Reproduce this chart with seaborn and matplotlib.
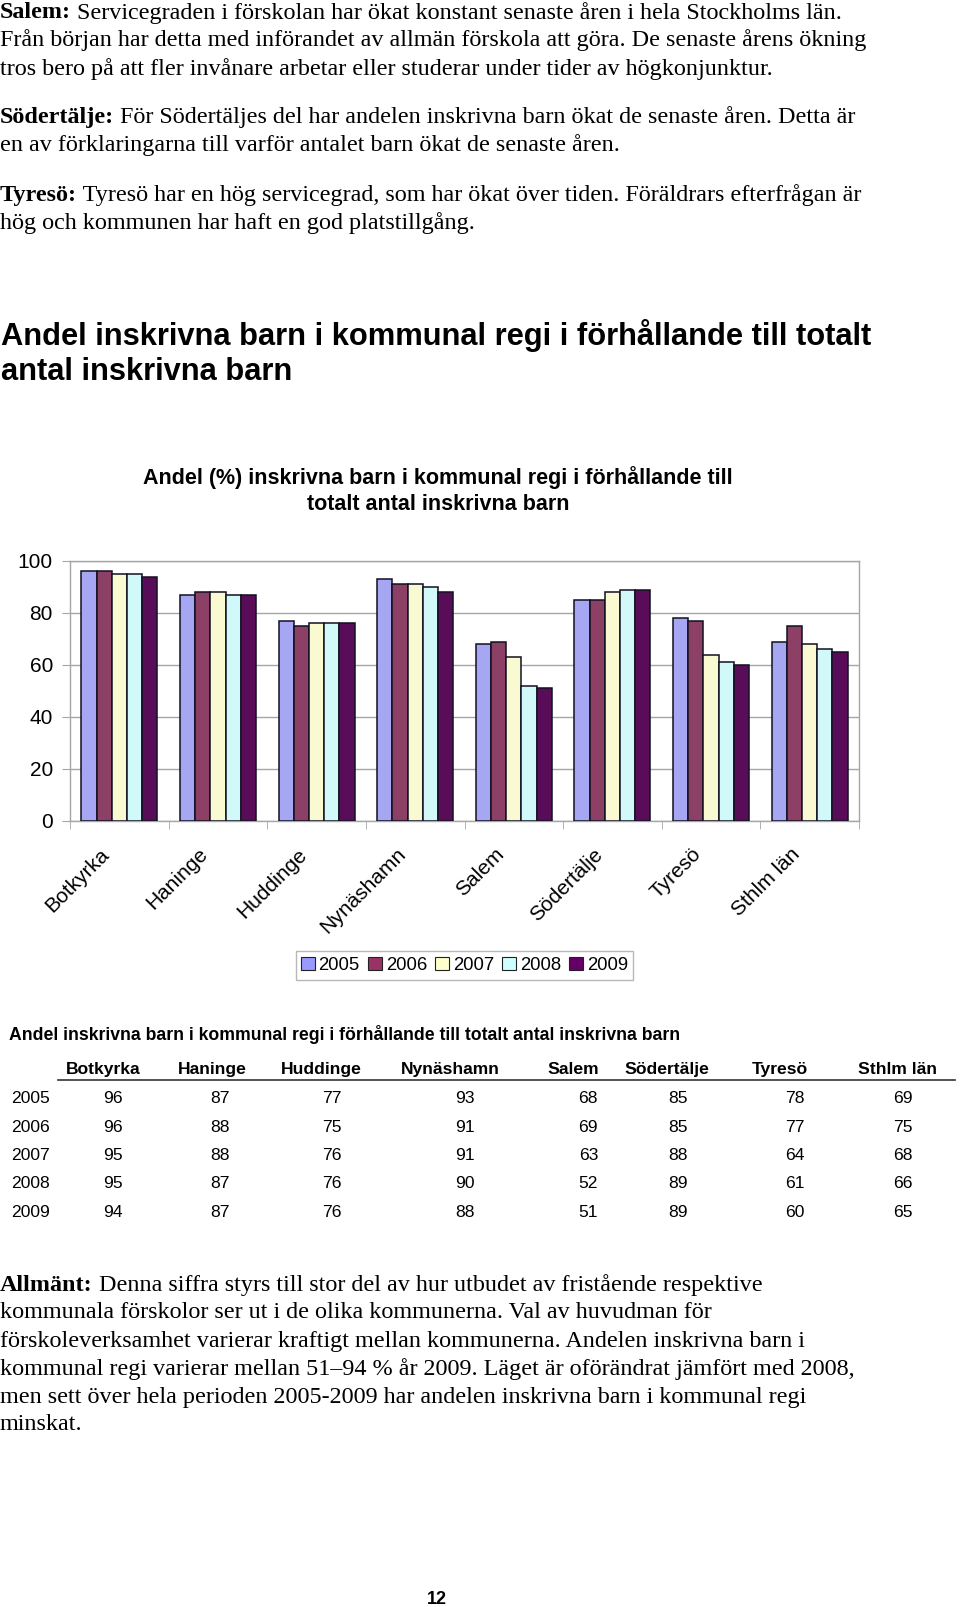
"""Andel inskrivna barn i kommunal regi - bar chart page with table."""

import numpy as np
import pandas as pd
import matplotlib
matplotlib.use("Agg")
import matplotlib.pyplot as plt
from matplotlib.patches import Patch
from matplotlib.transforms import ScaledTranslation
import seaborn as sns

kommuner = ['Botkyrka', 'Haninge', 'Huddinge', 'Nynäshamn', 'Salem',
            'Södertälje', 'Tyresö', 'Sthlm län']
years = ['2005', '2006', '2007', '2008', '2009']
andel_2005 = [96, 87, 77, 93, 68, 85, 78, 69]
andel_2006 = [96, 88, 75, 91, 69, 85, 77, 75]
andel_2007 = [95, 88, 76, 91, 63, 88, 64, 68]
andel_2008 = [95, 87, 76, 90, 52, 89, 61, 66]
andel_2009 = [94, 87, 76, 88, 51, 89, 60, 65]
series = [andel_2005, andel_2006, andel_2007, andel_2008, andel_2009]
colors = ['#9999FF', '#993366', '#FFFFCC', '#CCFFFF', '#660066']
y_ticks = [0, 20, 40, 60, 80, 100]

top_text = [
    ('Salem:', ' Servicegraden i förskolan har ökat konstant senaste åren i hela Stockholms län.'),
    ('', 'Från början har detta med införandet av allmän förskola att göra. De senaste årens ökning'),
    ('', 'tros bero på att fler invånare arbetar eller studerar under tider av högkonjunktur.'),
    ('Södertälje:', ' För Södertäljes del har andelen inskrivna barn ökat de senaste åren. Detta är'),
    ('', 'en av förklaringarna till varför antalet barn ökat de senaste åren.'),
    ('Tyresö:', ' Tyresö har en hög servicegrad, som har ökat över tiden. Föräldrars efterfrågan är'),
    ('', 'hög och kommunen har haft en god platstillgång.'),
]
bottom_text = [
    ('Allmänt:', ' Denna siffra styrs till stor del av hur utbudet av fristående respektive'),
    ('', 'kommunala förskolor ser ut i de olika kommunerna. Val av huvudman för'),
    ('', 'förskoleverksamhet varierar kraftigt mellan kommunerna. Andelen inskrivna barn i'),
    ('', 'kommunal regi varierar mellan 51–94 % år 2009. Läget är oförändrat jämfört med 2008,'),
    ('', 'men sett över hela perioden 2005-2009 har andelen inskrivna barn i kommunal regi'),
    ('', 'minskat.'),
]

W, H = 960, 1607
SANS = 'Liberation Sans'
SERIF = 'Liberation Serif'

df = pd.DataFrame({
    'kommun': np.tile(kommuner, len(years)),
    'ar': np.repeat(years, len(kommuner)),
    'andel': np.concatenate(series),
})

plt.rcParams['font.family'] = [SANS, 'DejaVu Sans']
fig = plt.figure(figsize=(W / 100, H / 100), dpi=100)
fig.patch.set_facecolor('white')
renderer = fig.canvas.get_renderer()


def fx(x):
    return x / W


def fy(y):
    return 1 - y / H


def para(lines, ys, size):
    for (bold, rest), yy in zip(lines, ys):
        y = fy(yy)
        x = 0.0
        if bold:
            t = fig.text(x, y, bold, fontsize=size, family=SERIF,
                         fontweight='bold', va='center', ha='left')
            x += t.get_window_extent(renderer).width / W
        fig.text(x, y, rest, fontsize=size, family=SERIF, va='center', ha='left')


para(top_text, [13, 40.5, 69, 117, 145, 195, 223], 17.4)
para(bottom_text, [1285.5, 1313, 1341, 1369.5, 1397, 1425], 17.4)

# big heading
fig.text(fx(1), fy(336), 'Andel inskrivna barn i kommunal regi i förhållande till totalt',
         fontsize=22.2, fontweight='bold', va='center', ha='left')
fig.text(fx(1), fy(372.5), 'antal inskrivna barn',
         fontsize=22.2, fontweight='bold', va='center', ha='left')

# chart title
fig.text(fx(438), fy(478), 'Andel (%) inskrivna barn i kommunal regi i förhållande till',
         fontsize=15.5, fontweight='bold', va='center', ha='center')
fig.text(fx(438), fy(505), 'totalt antal inskrivna barn',
         fontsize=15.5, fontweight='bold', va='center', ha='center')

# chart
ax = fig.add_axes([fx(70), fy(821), (859 - 70) / W, (821 - 561) / H])
sns.barplot(data=df, x='kommun', y='andel', hue='ar', palette=colors,
            width=0.77, edgecolor='#111122', linewidth=1.1, errorbar=None,
            legend=False, ax=ax, zorder=3)
ax.set_xlim(-0.5, len(kommuner) - 0.5)
ax.set_ylim(0, 100)
ax.set_yticks(y_ticks)
ax.set_yticklabels([str(v) for v in y_ticks], fontsize=15)
ax.yaxis.grid(True, color='#a6a6a6', linewidth=1.0, zorder=0)
ax.set_axisbelow(True)
ax.set_xlabel('')
ax.set_ylabel('')
for s in ax.spines.values():
    s.set_color('#a6a6a6')
    s.set_linewidth(1.0)
ax.tick_params(axis='y', length=5.8, color='#a6a6a6', pad=6.5)
ax.set_xticks(np.arange(len(kommuner)))
ax.set_xticks(np.arange(len(kommuner) + 1) - 0.5, minor=True)
ax.tick_params(axis='x', which='major', length=0, pad=17)
ax.tick_params(axis='x', which='minor', length=5.8, color='#a6a6a6')
ax.set_xticklabels(kommuner, fontsize=15, rotation=45, ha='right', va='top')
shift = ScaledTranslation(-6 / 100, 0, fig.dpi_scale_trans)
for lab in ax.get_xticklabels():
    lab.set_transform(lab.get_transform() + shift)

handles = [Patch(facecolor=c, edgecolor='#222222', linewidth=0.8) for c in colors]
fig.legend(handles, years, loc='center', bbox_to_anchor=(fx(464.5), fy(965.5)),
           ncol=5, fontsize=13.3, frameon=True, fancybox=False, edgecolor='#a6a6a6',
           handlelength=0.75, handleheight=0.75, handletextpad=0.2,
           columnspacing=0.45, borderpad=0.3, borderaxespad=0)

# table
fig.text(fx(9), fy(1034), 'Andel inskrivna barn i kommunal regi i förhållande till totalt antal inskrivna barn',
         fontsize=12.7, fontweight='bold', va='center', ha='left')
head_x = [103, 212, 321, 450, 573, 667, 780, 897]
val_x = [123, 230, 342, 475, 598, 688, 805, 913]
for name, hx in zip(kommuner, head_x):
    fig.text(fx(hx), fy(1074), name, fontsize=12.6, fontweight='bold',
             va='baseline', ha='center')
fig.add_artist(plt.Line2D([fx(58), fx(955)], [fy(1080), fy(1080)],
                          color='#333333', linewidth=1.2))
row_y = [1103.3, 1131.7, 1160, 1188.3, 1216.7]
for yr, vals, ry in zip(years, series, row_y):
    fig.text(fx(11), fy(ry), yr, fontsize=12.6, va='baseline', ha='left')
    for v, vx in zip(vals, val_x):
        fig.text(fx(vx), fy(ry), str(v), fontsize=12.6, va='baseline', ha='right')

# page number
fig.text(fx(437), fy(1599), '12', fontsize=13, fontweight='bold',
         va='center', ha='center')

fig.savefig('out.png', dpi=100)
